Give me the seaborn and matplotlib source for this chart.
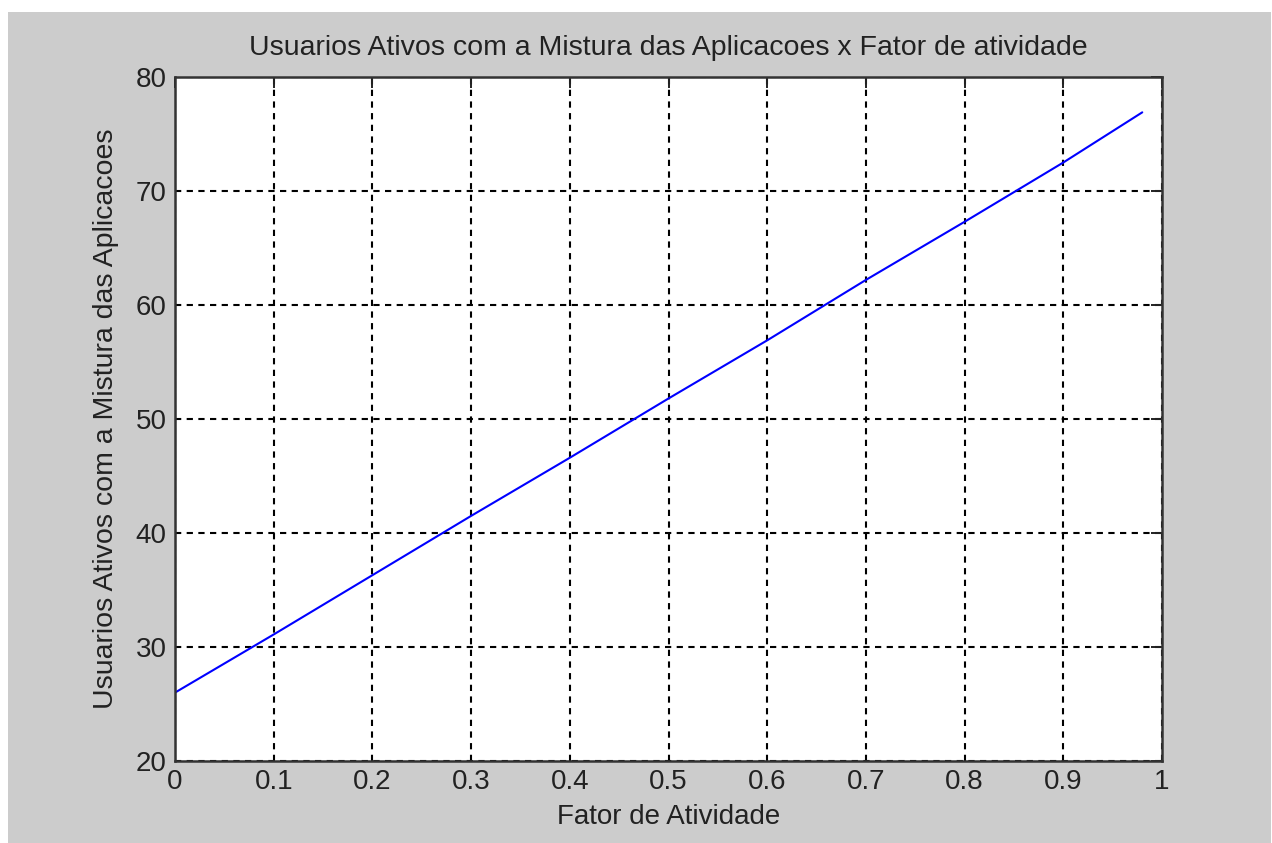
import matplotlib
matplotlib.use("Agg")
import matplotlib.pyplot as plt
import seaborn as sns
import pandas as pd
from matplotlib.patches import Rectangle

# valores
fator = [0.0, 0.1, 0.2, 0.3, 0.4, 0.5, 0.6, 0.7, 0.8, 0.9, 0.98]
usuarios = [26.0, 31.1, 36.3, 41.5, 46.6, 51.8, 56.9, 62.2, 67.3, 72.5, 76.9]
xticks = [0, 0.1, 0.2, 0.3, 0.4, 0.5, 0.6, 0.7, 0.8, 0.9, 1]
xtick_labels = ['0', '0.1', '0.2', '0.3', '0.4', '0.5', '0.6', '0.7', '0.8', '0.9', '1']
yticks = [20, 30, 40, 50, 60, 70, 80]

df = pd.DataFrame({'fator': fator, 'usuarios': usuarios})

sns.set_style('white')
plt.rcParams['font.family'] = ['Liberation Sans', 'DejaVu Sans']

fig = plt.figure(figsize=(12.72, 8.43), dpi=100)
fig.patch.set_facecolor('white')
fig.patches.append(Rectangle((8 / 1272, 0), 1 - 9 / 1272, 1 - 12 / 843,
                             transform=fig.transFigure, facecolor='#cccccc',
                             edgecolor='none', zorder=-10))

ax = fig.add_axes([175 / 1272, 1 - 761 / 843, 987 / 1272, 684 / 843])
ax.set_facecolor('white')

sns.lineplot(data=df, x='fator', y='usuarios', ax=ax, color='#0000ff', linewidth=1.5)

ax.set_xlim(0, 1)
ax.set_ylim(20, 80)
ax.set_xticks(xticks)
ax.set_xticklabels(xtick_labels)
ax.set_yticks(yticks)
ax.grid(True, color='black', linestyle=(0, (3, 2.6)), linewidth=1.5)
ax.tick_params(direction='in', length=8, width=1.4, top=True, right=True,
               labelsize=20, pad=6, colors='#222222')
for s in ax.spines.values():
    s.set_color('#333333')
    s.set_linewidth(1.8)

ax.set_title('Usuarios Ativos com a Mistura das Aplicacoes x Fator de atividade',
             fontsize=20.5, pad=16, color='#222222')
ax.set_xlabel('Fator de Atividade', fontsize=20, labelpad=6, color='#222222')
ax.set_ylabel('Usuarios Ativos com a Mistura das Aplicacoes', fontsize=20.5,
              labelpad=12, color='#222222')

fig.savefig('out.png', dpi=100, facecolor=fig.get_facecolor())
